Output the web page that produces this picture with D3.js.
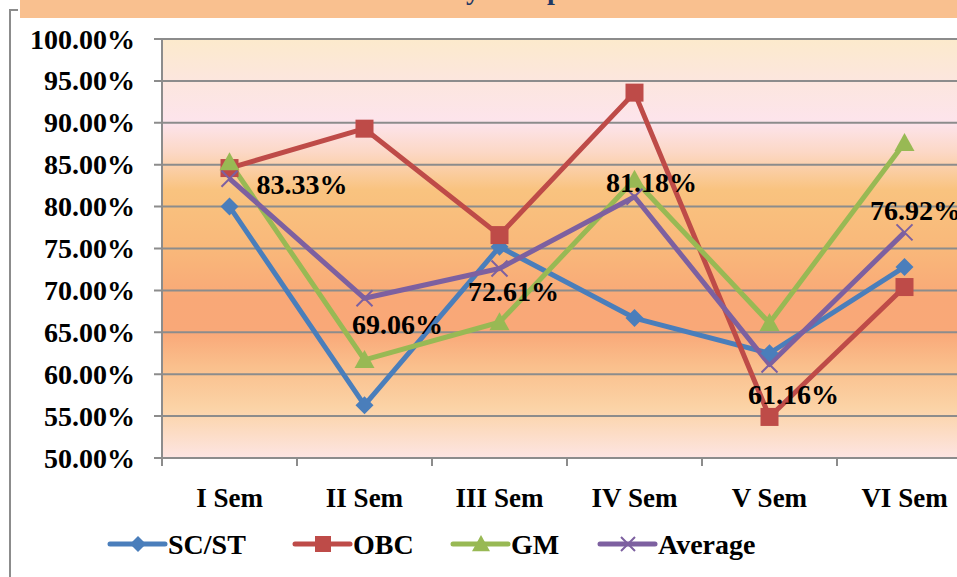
<!DOCTYPE html>
<html>
<head>
<meta charset="utf-8">
<script src="https://cdn.jsdelivr.net/npm/d3@7"></script>
<style>
  body { margin: 0; background: #fff; }
  svg { display: block; font-family: "Liberation Serif", serif; font-weight: bold; }
</style>
</head>
<body>
<svg id="chart" width="957" height="577"></svg>
<script>
// data
const semesters = ["I Sem", "II Sem", "III Sem", "IV Sem", "V Sem", "VI Sem"];
const scst    = [80.0, 56.3, 75.2, 66.7, 62.5, 72.8];
const obc     = [84.6, 89.3, 76.6, 93.6, 54.9, 70.4];
const gm      = [85.3, 61.7, 66.2, 83.2, 66.1, 87.6];
const average = [83.33, 69.06, 72.61, 81.18, 61.16, 76.92];
const yTicks  = [50, 55, 60, 65, 70, 75, 80, 85, 90, 95, 100];

// label offsets (px) from the Average point
const labelDx = [27, 33, 14, 17, 24, 11];
const labelDy = [15, 36, 32, -5, 40, -12];
const labelAnchor = ["start", "middle", "middle", "middle", "middle", "middle"];

const series = [
  { name: "SC/ST",   values: scst,    color: "#4A7EBB", marker: "diamond" },
  { name: "OBC",     values: obc,     color: "#BE4B48", marker: "square" },
  { name: "GM",      values: gm,      color: "#98B954", marker: "triangle" },
  { name: "Average", values: average, color: "#7D60A0", marker: "cross" },
];

const svg = d3.select("#chart");
const M = { left: 162, top: 39, right: 972, bottom: 458 };

const x = d3.scaleBand().domain(semesters).range([M.left, M.right]);
const y = d3.scaleLinear().domain([50, 100]).range([M.bottom, M.top]);
const fmt = v => v.toFixed(2) + "%";

// outer frame + title band
svg.append("path").attr("d", "M18,10H10V577").attr("fill", "none")
  .attr("stroke", "#8c8c8c").attr("stroke-width", 2);
svg.append("rect").attr("x", 20).attr("y", 0).attr("width", 937).attr("height", 18)
  .attr("fill", "#F9C08F");
const title = svg.append("text").attr("y", -1).attr("fill", "#1F3864")
  .attr("font-size", 28)
  .text("Semester wise Analysis of pass Results");
const tn = title.node();
const yi = tn.textContent.indexOf("y");
title.attr("x", 466 - tn.getSubStringLength(0, yi));

// plot background
const grad = svg.append("defs").append("linearGradient").attr("id", "bg")
  .attr("x1", 0).attr("y1", 0).attr("x2", 0).attr("y2", 1);
[[0, "#FCEACC"], [0.1, "#FCE6DE"], [0.2, "#FDE4EC"], [0.27, "#FCD8C6"], [0.36, "#F9C37F"],
 [0.5, "#F9B87A"], [0.62, "#F9A877"], [0.7, "#F9A878"], [0.78, "#FABF8C"], [0.88, "#FBD3A6"],
 [1, "#FDE5E3"]].forEach(s => grad.append("stop").attr("offset", s[0]).attr("stop-color", s[1]));
svg.append("rect").attr("x", M.left).attr("y", M.top)
  .attr("width", M.right - M.left).attr("height", M.bottom - M.top).attr("fill", "url(#bg)");

// grid
svg.append("g").selectAll("line").data(yTicks).join("line")
  .attr("x1", M.left - 8).attr("x2", M.right)
  .attr("y1", d => y(d)).attr("y2", d => y(d))
  .attr("stroke", "#8c8c8c").attr("stroke-width", 2);
svg.append("line").attr("x1", M.left).attr("x2", M.left).attr("y1", M.top).attr("y2", M.bottom)
  .attr("stroke", "#8c8c8c").attr("stroke-width", 2);

// y labels
svg.append("g").selectAll("text").data(yTicks).join("text")
  .attr("x", 135).attr("y", d => y(d)).attr("dy", "0.34em")
  .attr("text-anchor", "end").attr("font-size", 28).text(d => fmt(d));

// x ticks + labels
const bounds = semesters.map(s => x(s)).concat([M.right]);
svg.append("g").selectAll("line").data(bounds).join("line")
  .attr("x1", d => d).attr("x2", d => d).attr("y1", M.bottom).attr("y2", M.bottom + 8)
  .attr("stroke", "#8c8c8c").attr("stroke-width", 2);
svg.append("g").selectAll("text").data(semesters).join("text")
  .attr("x", d => x(d) + x.bandwidth() / 2).attr("y", 507)
  .attr("text-anchor", "middle").attr("font-size", 27).text(d => d);

const cx = i => x(semesters[i]) + x.bandwidth() / 2;

function drawMarker(g, type, color, s) {
  if (type === "diamond") {
    g.append("path").attr("d", `M0,${-s}L${s},0L0,${s}L${-s},0Z`).attr("fill", color);
  } else if (type === "square") {
    g.append("rect").attr("x", -s).attr("y", -s).attr("width", 2 * s).attr("height", 2 * s).attr("fill", color);
  } else if (type === "triangle") {
    g.append("path").attr("d", `M0,${-s}L${s},${s * 0.8}L${-s},${s * 0.8}Z`).attr("fill", color);
  } else {
    g.append("path").attr("d", `M${-s},${-s}L${s},${s}M${-s},${s}L${s},${-s}`)
      .attr("stroke", color).attr("stroke-width", 2).attr("fill", "none");
  }
}
const mSize = { diamond: 9, square: 9, triangle: 10, cross: 8 };

const line = d3.line().x((d, i) => cx(i)).y(d => y(d));
const plot = svg.append("g");
series.forEach(s => {
  plot.append("path").datum(s.values).attr("d", line).attr("fill", "none")
    .attr("stroke", s.color).attr("stroke-width", 5).attr("stroke-linejoin", "round");
});
series.forEach(s => {
  s.values.forEach((v, i) => {
    const g = plot.append("g").attr("transform", `translate(${cx(i)},${y(v)})`);
    drawMarker(g, s.marker, s.color, mSize[s.marker]);
  });
});

// average data labels
svg.append("g").selectAll("text").data(average).join("text")
  .attr("x", (d, i) => cx(i) + labelDx[i]).attr("y", (d, i) => y(d) + labelDy[i])
  .attr("text-anchor", (d, i) => labelAnchor[i]).attr("font-size", 28).text(d => fmt(d));

// legend
const legX = [110, 295, 453, 600];
series.forEach((s, i) => {
  const g = svg.append("g").attr("transform", `translate(${legX[i]},544)`);
  g.append("line").attr("x1", 0).attr("x2", 55).attr("stroke", s.color)
    .attr("stroke-width", 5).attr("stroke-linecap", "round");
  const m = g.append("g").attr("transform", "translate(28,0)");
  drawMarker(m, s.marker, s.color, mSize[s.marker] - 1);
  g.append("text").attr("x", 58).attr("y", 10).attr("font-size", 28).text(s.name);
});
</script>
</body>
</html>
